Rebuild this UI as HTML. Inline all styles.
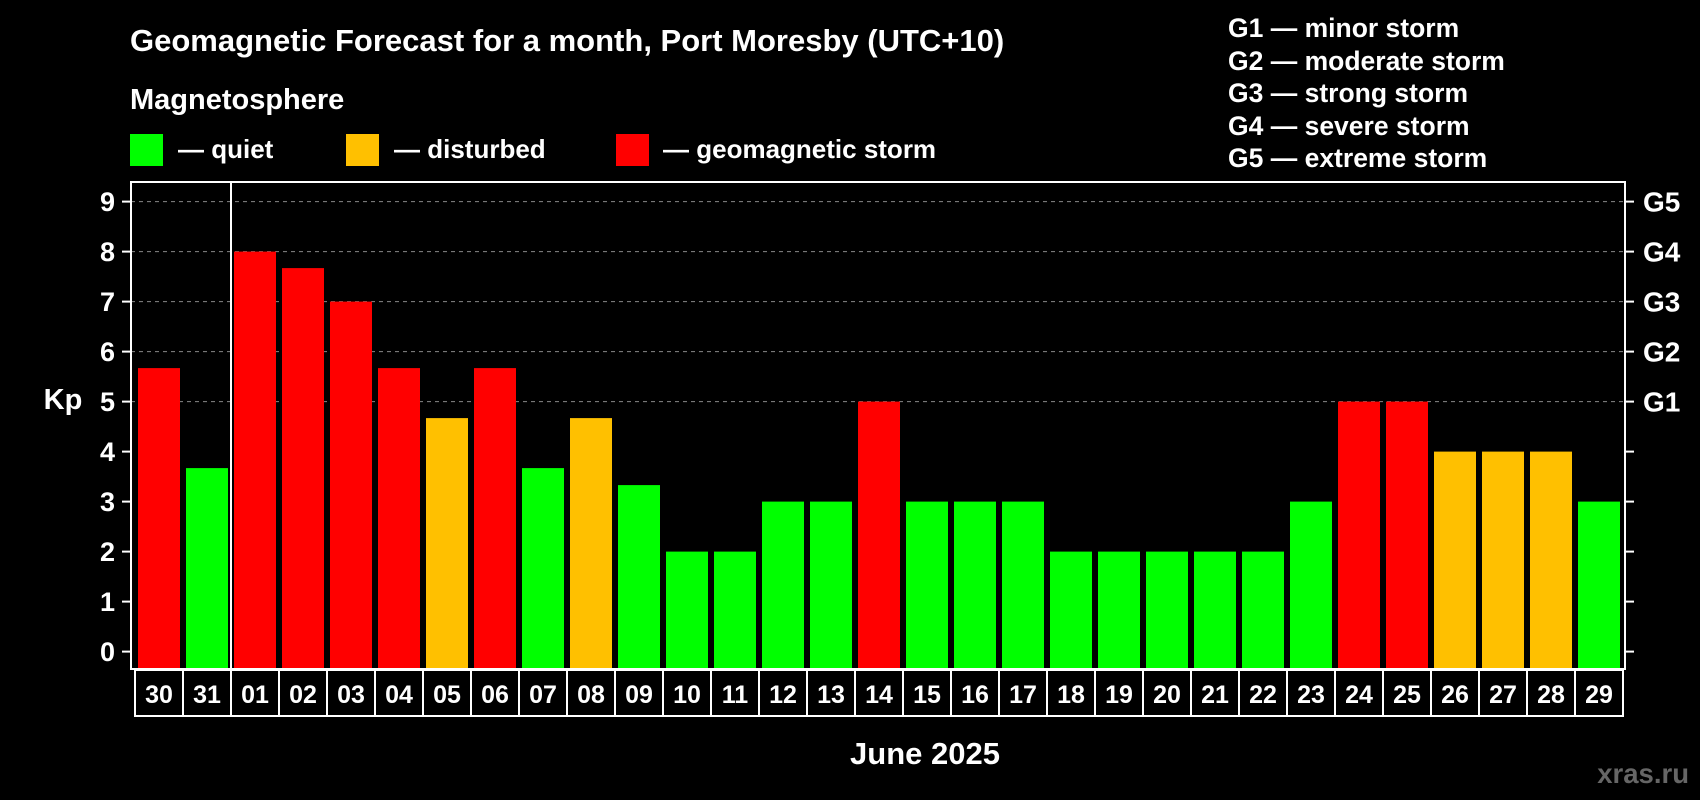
<!DOCTYPE html>
<html><head><meta charset="utf-8"><style>
html,body{margin:0;padding:0;background:#000;width:1700px;height:800px;overflow:hidden}
svg text{font-family:"Liberation Sans",Arial,sans-serif;font-weight:bold;fill:#fff}
</style></head><body>
<svg id="chart" width="1700" height="800" viewBox="0 0 1700 800">
<text x="130" y="51" font-size="31">Geomagnetic Forecast for a month, Port Moresby (UTC+10)</text>
<text x="130" y="109" font-size="29">Magnetosphere</text>
<rect x="130" y="134" width="33" height="32" fill="#00ff00"/>
<text x="178" y="158" font-size="26">— quiet</text>
<rect x="346" y="134" width="33" height="32" fill="#ffc000"/>
<text x="394" y="158" font-size="26">— disturbed</text>
<rect x="616" y="134" width="33" height="32" fill="#ff0000"/>
<text x="663" y="158" font-size="26">— geomagnetic storm</text>
<g font-size="26.5">
<text x="1228" y="37">G1 — minor storm</text>
<text x="1228" y="70">G2 — moderate storm</text>
<text x="1228" y="102">G3 — strong storm</text>
<text x="1228" y="135">G4 — severe storm</text>
<text x="1228" y="167">G5 — extreme storm</text>
</g>
<text x="63" y="409" font-size="29" text-anchor="middle">Kp</text>
<text x="925" y="764" font-size="31" text-anchor="middle">June 2025</text>
<text x="1689" y="783" font-size="27.5" text-anchor="end" style="fill:#666">xras.ru</text>
<g id="grid"></g><g id="bars"></g><g id="axes"></g>
</svg>
<script>
const days=["30","31","01","02","03","04","05","06","07","08","09","10","11","12","13","14","15","16","17","18","19","20","21","22","23","24","25","26","27","28","29"];
const kp=[5.67,3.67,8,7.67,7,5.67,4.67,5.67,3.67,4.67,3.33,2,2,3,3,5,3,3,3,2,2,2,2,2,3,5,5,4,4,4,3];
const yTicks=[0,1,2,3,4,5,6,7,8,9];
const gLabels=["G1","G2","G3","G4","G5"];
const NS="http://www.w3.org/2000/svg";
const L=131,R=1625,T=182,B=669;
const y=v=>651.6-v*50.0;
const xs=i=>136+i*48;
function mk(tag,attrs,parent){const e=document.createElementNS(NS,tag);for(const k in attrs)e.setAttribute(k,attrs[k]);parent.appendChild(e);return e;}
const grid=document.getElementById('grid'),bars=document.getElementById('bars'),axes=document.getElementById('axes');
yTicks.forEach(v=>{
  if(v>=5){const g=mk('line',{x1:L,x2:R,y1:y(v),y2:y(v),stroke:'#888','stroke-dasharray':'4,4','stroke-width':1},grid);
  
  }
  mk('line',{x1:122,x2:L,y1:y(v),y2:y(v),stroke:'#fff','stroke-width':2},axes);
  mk('line',{x1:R,x2:1634,y1:y(v),y2:y(v),stroke:'#fff','stroke-width':2},axes);
  const t=mk('text',{x:115,y:y(v)+9.5,'font-size':27,'text-anchor':'end'},axes);t.textContent=v;
  
  
});
gLabels.forEach((g,i)=>{const t=mk('text',{x:1643,y:y(5+i)+10,'font-size':28},axes);t.textContent=g;
  
  });
kp.forEach((v,i)=>{
  const c=v>=5?'#ff0000':(v>=4?'#ffc000':'#00ff00');
  const r=mk('rect',{x:xs(i)+2,y:y(v),width:42,height:B-y(v),fill:c},bars);
  
  
  const b=mk('rect',{x:135+i*48,y:670,width:48,height:46,fill:'none',stroke:'#fff','stroke-width':2},axes);
  
  
  const t=mk('text',{x:159+i*48,y:703,'font-size':25,'text-anchor':'middle'},axes);t.textContent=days[i];
  
  
});
const f=mk('rect',{x:L,y:T,width:R-L,height:B-T,fill:'none',stroke:'#fff','stroke-width':2},axes);


const s=mk('line',{x1:231,x2:231,y1:T,y2:B,stroke:'#fff','stroke-width':2},axes);


</script>
</body></html>
